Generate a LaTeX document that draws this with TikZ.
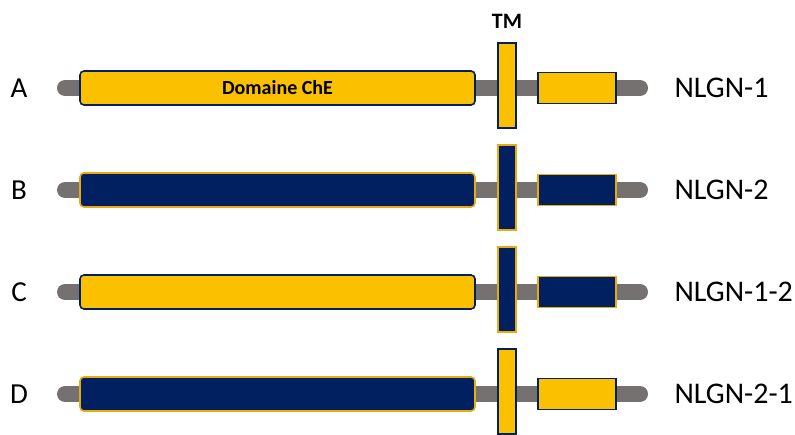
\documentclass[tikz,border=0pt]{standalone}
\usepackage{fontspec}
\setmainfont{Carlito}
\definecolor{gold}{HTML}{FBC000}
\definecolor{goldedge}{HTML}{EBAA10}
\definecolor{navy}{HTML}{002060}
\definecolor{stalk}{HTML}{767171}
\tikzset{
  goldbox/.style={draw=navy, fill=gold, line width=1.6pt},
  navybox/.style={draw=goldedge, fill=navy, line width=1.6pt},
  bigdom/.style={rectangle, rounded corners=4pt, minimum width=395pt, minimum height=34pt, inner sep=0pt},
  tmdom/.style={rectangle, minimum width=18pt, minimum height=85pt, inner sep=0pt},
  smalldom/.style={rectangle, minimum width=78pt, minimum height=31pt, inner sep=0pt},
  stalkline/.style={draw=stalk, line width=16pt, line cap=round},
  rowletter/.style={font=\fontsize{29}{30}\selectfont, anchor=center},
  rowname/.style={font=\fontsize{30}{31}\selectfont, anchor=west},
  boldlabel/.style={font=\fontsize{20}{22}\selectfont\bfseries}
}
% one protein: #1 name, #2 y, #3/#4/#5 styles of ChE, TM and C-terminal domains, #6 letter, #7 label
\newcommand\proteinrow[7]{
  \coordinate (#1-l) at (65,#2);
  \coordinate (#1-r) at (640,#2);
  \draw[stalkline] (#1-l) -- (#1-r);
  \node[bigdom, #3] (#1-che) at (277.5,#2) {};
  \node[tmdom, #4] (#1-tm) at (507,#2-2.5) {};
  \node[smalldom, #5] (#1-ct) at (577,#2) {};
  \node[rowletter] (#1-letter) at (19,#2) {#6};
  \node[rowname] (#1-name) at (671,#2) {#7};
}
\begin{document}
\begin{tikzpicture}[x=1pt, y=-1pt]
  \useasboundingbox (0,0) rectangle (795,435);
  \proteinrow{a}{88}{goldbox}{goldbox}{goldbox}{A}{NLGN-1}
  \proteinrow{b}{190}{navybox}{navybox}{navybox}{B}{NLGN-2}
  \proteinrow{c}{292}{goldbox}{navybox}{navybox}{C}{NLGN-1-2}
  \proteinrow{d}{394}{navybox}{goldbox}{goldbox}{D}{NLGN-2-1}
  \node[boldlabel] (che) at (a-che.center) {Domaine ChE};
  \node[boldlabel, font=\fontsize{22}{24}\selectfont\bfseries] (tm) at (507,21) {TM};
\end{tikzpicture}
\end{document}
